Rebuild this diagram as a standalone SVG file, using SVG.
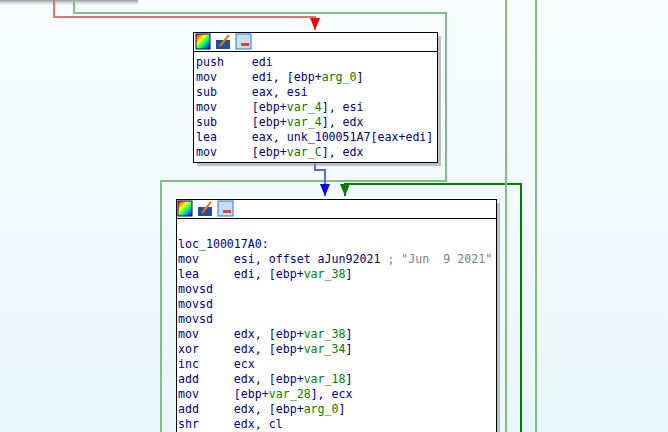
<svg xmlns="http://www.w3.org/2000/svg" width="668" height="432" viewBox="0 0 668 432" xml:space="preserve">
<defs>
<linearGradient id="bg" x1="0" y1="0" x2="0" y2="1"><stop offset="0" stop-color="#f9fdfe"/><stop offset="1" stop-color="#e9f7fc"/></linearGradient>
<linearGradient id="rb" x1="0" y1="0" x2="1" y2="1"><stop offset="0" stop-color="#ff0000"/><stop offset="0.35" stop-color="#ffff00"/><stop offset="0.6" stop-color="#00ff80"/><stop offset="1" stop-color="#0000ff"/></linearGradient>
<linearGradient id="tsh" x1="0" y1="0" x2="0" y2="1"><stop offset="0" stop-color="#999"/><stop offset="1" stop-color="#ddd" stop-opacity="0.3"/></linearGradient>
<marker id="ar_r" viewBox="0 0 10 12" refX="5" refY="12" markerWidth="10" markerHeight="12" markerUnits="userSpaceOnUse"><path d="M0,0 L10,0 L5,12 Z" fill="#ff0000"/></marker>
<marker id="ar_b" viewBox="0 0 10 12" refX="5" refY="12" markerWidth="10" markerHeight="12" markerUnits="userSpaceOnUse"><path d="M0,0 L10,0 L5,12 Z" fill="#0000ff"/></marker>
<marker id="ar_g" viewBox="0 0 10 12" refX="5" refY="12" markerWidth="10" markerHeight="12" markerUnits="userSpaceOnUse"><path d="M0,0 L10,0 L5,12 Z" fill="#008000"/></marker>
</defs>
<style>
.t{font-family:"DejaVu Sans Mono","Liberation Mono",monospace;font-size:11.6px;fill:#000080;white-space:pre}
.v{fill:#008000}.c{fill:#808080}
.blk{fill:#fff;stroke:#000;stroke-width:1}
.ln{fill:none;stroke-width:2}
</style>
<rect width="668" height="432" fill="url(#bg)"/>
<rect x="0" y="0" width="138" height="5" fill="url(#tsh)"/>
<g id="connectors">
<path class="ln" d="M54,0 V17 H315 V30" stroke="#f07070" marker-end="url(#ar_r)"/>
<path class="ln" d="M74,0 V13 H446 V181 H161 V432" stroke="#80c080"/>
<path class="ln" d="M315,162 V170 H325 V196" stroke="#6060ff" marker-end="url(#ar_b)"/>
<path class="ln" d="M521,432 V184 H345 V196" stroke="#008000" marker-end="url(#ar_g)"/>
<path class="ln" d="M506,0 V432" stroke="#80c080"/>
<path class="ln" d="M536,0 V432" stroke="#80c080"/>
</g>
<g id="node1">
<rect x="197" y="36" width="244" height="130" fill="#999" opacity="0.6"/>
<rect class="blk" x="193.5" y="32.5" width="244" height="130"/>
<line x1="193.5" y1="51.5" x2="437.5" y2="51.5" stroke="#000"/>
<rect x="196" y="34" width="14" height="15" fill="url(#rb)" stroke="#000080"/>
<rect x="216" y="40" width="14" height="9" fill="#2050a0"/><path d="M220,46 L229,35" stroke="#e08000" stroke-width="2"/>
<rect x="236" y="34" width="15" height="15" fill="#cde" stroke="#2080d0"/><rect x="241" y="43" width="8" height="3" fill="#e04040"/>
<text class="t" x="196" y="66">push    edi</text>
<text class="t" x="196" y="81">mov     edi, [ebp+<tspan class="v">arg_0</tspan>]</text>
<text class="t" x="196" y="96">sub     eax, esi</text>
<text class="t" x="196" y="111">mov     [ebp+<tspan class="v">var_4</tspan>], esi</text>
<text class="t" x="196" y="126">sub     [ebp+<tspan class="v">var_4</tspan>], edx</text>
<text class="t" x="196" y="141">lea     eax, unk_100051A7[eax+edi]</text>
<text class="t" x="196" y="156">mov     [ebp+<tspan class="v">var_C</tspan>], edx</text>
</g>
<g id="node2">
<rect x="180" y="203" width="320" height="240" fill="#999" opacity="0.6"/>
<rect class="blk" x="176.5" y="199.5" width="320" height="240"/>
<line x1="176.5" y1="218.5" x2="496.5" y2="218.5" stroke="#000"/>
<rect x="178" y="201" width="14" height="15" fill="url(#rb)" stroke="#000080"/>
<rect x="198" y="207" width="14" height="9" fill="#2050a0"/><path d="M202,213 L211,202" stroke="#e08000" stroke-width="2"/>
<rect x="218" y="201" width="15" height="15" fill="#cde" stroke="#2080d0"/><rect x="223" y="210" width="8" height="3" fill="#e04040"/>
<text class="t" x="178" y="248">loc_100017A0:</text>
<text class="t" x="178" y="263">mov     esi, offset aJun92021 <tspan class="c">; "Jun  9 2021"</tspan></text>
<text class="t" x="178" y="278">lea     edi, [ebp+<tspan class="v">var_38</tspan>]</text>
<text class="t" x="178" y="293">movsd</text>
<text class="t" x="178" y="308">movsd</text>
<text class="t" x="178" y="323">movsd</text>
<text class="t" x="178" y="338">mov     edx, [ebp+<tspan class="v">var_38</tspan>]</text>
<text class="t" x="178" y="353">xor     edx, [ebp+<tspan class="v">var_34</tspan>]</text>
<text class="t" x="178" y="368">inc     ecx</text>
<text class="t" x="178" y="383">add     edx, [ebp+<tspan class="v">var_18</tspan>]</text>
<text class="t" x="178" y="398">mov     [ebp+<tspan class="v">var_28</tspan>], ecx</text>
<text class="t" x="178" y="413">add     edx, [ebp+<tspan class="v">arg_0</tspan>]</text>
<text class="t" x="178" y="428">shr     edx, cl</text>
</g>
</svg>
